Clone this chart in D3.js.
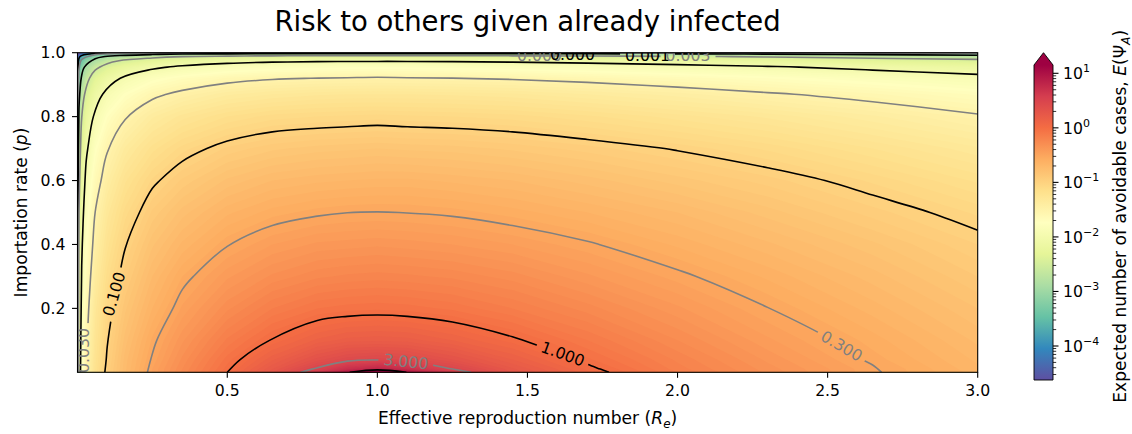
<!DOCTYPE html>
<html>
<head>
<meta charset="utf-8">
<script src="https://cdn.jsdelivr.net/npm/d3@7"></script>
<style>
  html, body { margin: 0; padding: 0; background: #ffffff; }
  svg { display: block; font-family: "DejaVu Sans", sans-serif; }
</style>
</head>
<body>
<svg id="chart" width="1132" height="434"></svg>
<script>
// ---------------- data ----------------
// grid of effective reproduction numbers (columns) and importation rates (rows)
const reValues = [0.001, 0.006, 0.015, 0.03, 0.06, 0.1, 0.16, 0.25, 0.35, 0.5, 0.65, 0.8, 0.9, 1.0, 1.1, 1.25, 1.45, 1.7, 2.0, 2.3, 2.65, 3.0];
const pValues = [0, 0.01, 0.04, 0.1, 0.2, 0.3, 0.4, 0.5, 0.6, 0.7, 0.8, 0.87, 0.92, 0.955, 0.975, 0.988, 0.996, 0.999, 1.0];
// log10 of expected number of avoidable cases, one row per importation rate
const log10Cases = [
  [-3.00, -2.22, -1.82, -1.51, -1.20, -0.95, -0.72, -0.48, -0.27, 0.00, 0.27, 0.60, 0.95, 1.60, 0.98, 0.57, 0.27, 0.05, -0.16, -0.33, -0.51, -0.66],
  [-3.00, -2.22, -1.82, -1.51, -1.20, -0.96, -0.73, -0.48, -0.28, -0.02, 0.24, 0.51, 0.71, 0.81, 0.72, 0.48, 0.25, 0.03, -0.18, -0.34, -0.51, -0.67],
  [-3.02, -2.24, -1.84, -1.53, -1.22, -0.98, -0.74, -0.51, -0.31, -0.06, 0.15, 0.34, 0.43, 0.46, 0.43, 0.32, 0.16, -0.03, -0.21, -0.37, -0.54, -0.69],
  [-3.04, -2.27, -1.86, -1.56, -1.25, -1.01, -0.78, -0.55, -0.37, -0.15, 0.01, 0.13, 0.18, 0.19, 0.18, 0.12, 0.02, -0.12, -0.28, -0.43, -0.58, -0.73],
  [-3.10, -2.32, -1.92, -1.61, -1.30, -1.07, -0.85, -0.64, -0.47, -0.29, -0.16, -0.08, -0.06, -0.05, -0.06, -0.09, -0.16, -0.26, -0.39, -0.52, -0.66, -0.80],
  [-3.15, -2.37, -1.98, -1.67, -1.37, -1.14, -0.93, -0.72, -0.56, -0.41, -0.31, -0.25, -0.23, -0.22, -0.23, -0.25, -0.30, -0.39, -0.50, -0.61, -0.74, -0.88],
  [-3.22, -2.44, -2.04, -1.74, -1.44, -1.22, -1.01, -0.81, -0.67, -0.53, -0.44, -0.39, -0.38, -0.37, -0.38, -0.40, -0.44, -0.51, -0.61, -0.71, -0.83, -0.96],
  [-3.30, -2.52, -2.12, -1.82, -1.52, -1.30, -1.10, -0.91, -0.78, -0.65, -0.58, -0.54, -0.524, -0.52, -0.524, -0.54, -0.58, -0.64, -0.72, -0.82, -0.94, -1.05],
  [-3.40, -2.62, -2.22, -1.92, -1.63, -1.41, -1.21, -1.03, -0.91, -0.79, -0.72, -0.69, -0.68, -0.67, -0.67, -0.69, -0.72, -0.78, -0.86, -0.94, -1.05, -1.17],
  [-3.52, -2.75, -2.35, -2.05, -1.76, -1.54, -1.35, -1.18, -1.06, -0.95, -0.89, -0.86, -0.85, -0.84, -0.85, -0.86, -0.89, -0.94, -1.01, -1.09, -1.20, -1.31],
  [-3.70, -2.92, -2.53, -2.23, -1.94, -1.73, -1.54, -1.37, -1.26, -1.16, -1.10, -1.08, -1.07, -1.06, -1.07, -1.08, -1.10, -1.15, -1.22, -1.29, -1.39, -1.50],
  [-3.89, -3.11, -2.71, -2.42, -2.13, -1.92, -1.74, -1.57, -1.47, -1.37, -1.32, -1.29, -1.28, -1.28, -1.28, -1.29, -1.31, -1.36, -1.42, -1.50, -1.59, -1.69],
  [-4.10, -3.32, -2.93, -2.63, -2.34, -2.13, -1.95, -1.79, -1.69, -1.59, -1.54, -1.52, -1.51, -1.50, -1.51, -1.52, -1.54, -1.58, -1.65, -1.72, -1.81, -1.91],
  [-4.35, -3.57, -3.18, -2.88, -2.59, -2.39, -2.21, -2.05, -1.95, -1.85, -1.80, -1.78, -1.77, -1.77, -1.77, -1.78, -1.80, -1.84, -1.90, -1.97, -2.07, -2.17],
  [-4.60, -3.83, -3.43, -3.14, -2.85, -2.64, -2.46, -2.31, -2.20, -2.11, -2.06, -2.04, -2.03, -2.03, -2.03, -2.04, -2.06, -2.10, -2.16, -2.23, -2.33, -2.42],
  [-4.92, -4.14, -3.75, -3.46, -3.17, -2.96, -2.78, -2.63, -2.53, -2.44, -2.39, -2.36, -2.35, -2.35, -2.35, -2.36, -2.39, -2.43, -2.49, -2.56, -2.65, -2.75],
  [-5.40, -4.62, -4.23, -3.93, -3.65, -3.44, -3.26, -3.11, -3.01, -2.92, -2.87, -2.84, -2.83, -2.83, -2.83, -2.84, -2.87, -2.90, -2.96, -3.03, -3.13, -3.22],
  [-6.00, -5.22, -4.83, -4.54, -4.25, -4.04, -3.87, -3.71, -3.61, -3.52, -3.47, -3.44, -3.44, -3.43, -3.44, -3.45, -3.47, -3.51, -3.57, -3.64, -3.73, -3.83],
  [-6.00, -6.00, -6.00, -6.00, -6.00, -6.00, -6.00, -6.00, -6.00, -6.00, -6.00, -6.00, -6.00, -6.00, -6.00, -6.00, -6.00, -6.00, -6.00, -6.00, -6.00, -6.00]
];
const contourLevels = [0.0001, 0.0003, 0.001, 0.003, 0.01, 0.03, 0.1, 0.3, 1, 3, 10];
const contourLabels = [
  { level: 0.1,    text: "0.100", re: 0.122, p: 0.245 },
  { level: 1,      text: "1.000", re: 1.618, p: 0.058 },
  { level: 3,      text: "3.000", re: 1.095, p: 0.034 },
  { level: 0.3,    text: "0.300", re: 2.547, p: 0.083 },
  { level: 0.0003, text: "0.000", re: 1.54,  p: 0.993 },
  { level: 0.0001, text: "0.000", re: 1.65,  p: 0.9935 },
  { level: 0.001,  text: "0.001", re: 1.90,  p: 0.993 },
  { level: 0.003,  text: "0.003", re: 2.035, p: 0.991 },
  { level: 0.03,   text: "0.030", re: 0.022, p: 0.068 }
];
const xTickValues = [0.5, 1.0, 1.5, 2.0, 2.5, 3.0];
const yTickValues = [0.2, 0.4, 0.6, 0.8, 1.0];
const colorLimits = [2.38e-5, 14.2];

// ---------------- styles / layout ----------------
const labelAngles = [-74, 20, 6, 30, 0, 0, 0, 0, -90];
const W = 1132, H = 434;
const plot = { l: 77.5, r: 977.7, t: 52.7, b: 372.3 };
const cb = { l: 1034, r: 1053, t: 65, b: 380, tip: 52.7 };
const FS_TICK = 15.7, FS_LABEL = 17.1, FS_TITLE = 27.5, FS_CLABEL = 15.7;
const spectral = ["#9e0142", "#d53e4f", "#f46d43", "#fdae61", "#fee08b", "#ffffbf",
                  "#e6f598", "#abdda4", "#66c2a5", "#3288bd", "#5e4fa2"].reverse();

const svg = d3.select("#chart");
svg.append("rect").attr("width", W).attr("height", H).attr("fill", "#fff");
const defs = svg.append("defs");
defs.append("clipPath").attr("id", "plotClip").append("rect")
  .attr("x", plot.l).attr("y", plot.t).attr("width", plot.r - plot.l).attr("height", plot.b - plot.t);

// ---------------- scales ----------------
const x = d3.scaleLinear().domain([0.001, 3.0]).range([plot.l, plot.r]);
const y = d3.scaleLinear().domain([0, 1]).range([plot.b, plot.t]);
const nx = reValues.length, ny = pValues.length;
const reOfIndex = d3.scaleLinear().domain(d3.range(nx)).range(reValues).clamp(true);
const pOfIndex = d3.scaleLinear().domain(d3.range(ny)).range(pValues).clamp(true);
const gx = c => x(reOfIndex(c - 0.5));
const gy = c => y(pOfIndex(c - 0.5));

const cmap = d3.scaleLinear().domain(d3.range(11).map(i => i / 10)).range(spectral)
  .interpolate(d3.interpolateRgb).clamp(true);
const norm = d3.scaleLog().domain(colorLimits).range([0, 1]).clamp(true);
const colorOfLog = L => cmap(norm(Math.pow(10, L)));

const flat = [];
log10Cases.forEach(row => row.forEach(v => flat.push(v)));

// ---------------- filled field ----------------
const step = 0.04;
const fillThresholds = [-10].concat(d3.range(-4.6, 1.2 + 1e-9, step));
const bands = d3.contours().size([nx, ny]).thresholds(fillThresholds)(flat);
const proj = d3.geoTransform({ point(px, py) { this.stream.point(gx(px), gy(py)); } });
const geoPath = d3.geoPath(proj);
const gFill = svg.append("g").attr("clip-path", "url(#plotClip)");
gFill.selectAll("path").data(bands).join("path")
  .attr("d", geoPath)
  .attr("fill", (d, i) => colorOfLog(i === 0 ? -4.7 : d.value + step / 2))
  .attr("fill-rule", "evenodd");

// ---------------- contour lines ----------------
const levelLogs = contourLevels.map(v => Math.log10(v));
const iso = d3.contours().size([nx, ny]).thresholds(levelLogs)(flat);
const onBoundary = pt => pt[0] <= 0 || pt[0] >= nx || pt[1] <= 0 || pt[1] >= ny;
function splitRing(ring) {
  const pts = ring.slice(0, -1);
  const n = pts.length;
  const start = pts.findIndex(onBoundary);
  if (start < 0) return [{ closed: true, pts }];
  const runs = [];
  let cur = [];
  for (let k = 1; k <= n; k++) {
    const pt = pts[(start + k) % n];
    if (onBoundary(pt)) { if (cur.length > 1) runs.push({ closed: false, pts: cur }); cur = []; }
    else cur.push(pt);
  }
  if (cur.length > 1) runs.push({ closed: false, pts: cur });
  return runs;
}
// thin out vertices that sit too close together (in pixels) so the spline stays smooth
function thin(pixPts, minGap) {
  if (pixPts.length < 3) return pixPts;
  const out = [pixPts[0]];
  for (let i = 1; i < pixPts.length - 1; i++) {
    const a = out[out.length - 1], b = pixPts[i];
    if (Math.hypot(b[0] - a[0], b[1] - a[1]) >= minGap) out.push(b);
  }
  const last = pixPts[pixPts.length - 1];
  const a = out[out.length - 1];
  if (out.length > 1 && Math.hypot(last[0] - a[0], last[1] - a[1]) < minGap * 0.5) out.pop();
  out.push(last);
  return out;
}
const lineOpen = d3.line().curve(d3.curveCatmullRom.alpha(0.5));
const lineClosed = d3.line().curve(d3.curveCatmullRomClosed.alpha(0.5));
const isMajor = v => Math.abs(Math.log10(v) - Math.round(Math.log10(v))) < 1e-6;
const gLines = svg.append("g").attr("clip-path", "url(#plotClip)");
iso.forEach((c, k) => {
  const runs = [];
  c.coordinates.forEach(poly => poly.forEach(ring => splitRing(ring).forEach(r => runs.push(r))));
  const d = runs.map(r => {
    const pix = thin(r.pts.map(q => [gx(q[0]), gy(q[1])]), 9);
    return (r.closed ? lineClosed : lineOpen)(pix);
  }).join("");
  gLines.append("path").attr("d", d).attr("fill", "none")
    .attr("stroke", isMajor(contourLevels[k]) ? "#000" : "#808080")
    .attr("stroke-width", 1.6)
    .attr("mask", `url(#lvlmask${k})`);
});

// ---------------- contour labels (inline, with gaps) ----------------
const masks = contourLevels.map((v, k) => {
  const m = defs.append("mask").attr("id", `lvlmask${k}`).attr("maskUnits", "userSpaceOnUse")
    .attr("x", 0).attr("y", 0).attr("width", W).attr("height", H);
  m.append("rect").attr("x", 0).attr("y", 0).attr("width", W).attr("height", H).attr("fill", "#fff");
  return m;
});
const gLabels = svg.append("g").attr("clip-path", "url(#plotClip)");
contourLabels.forEach((lb, i) => {
  const k = contourLevels.indexOf(lb.level);
  const tr = `translate(${x(lb.re)},${y(lb.p)}) rotate(${labelAngles[i]})`;
  const t = gLabels.append("text").attr("transform", tr)
    .attr("text-anchor", "middle").attr("dy", "0.36em")
    .attr("font-size", FS_CLABEL)
    .attr("fill", isMajor(lb.level) ? "#000" : "#808080")
    .text(lb.text);
  const len = t.node().getComputedTextLength();
  masks[k].append("rect").attr("transform", tr)
    .attr("x", -len / 2 - 5).attr("y", -7).attr("width", len + 10).attr("height", 14).attr("fill", "#000");
});

// ---------------- axes ----------------
svg.append("rect").attr("x", plot.l).attr("y", plot.t).attr("width", plot.r - plot.l).attr("height", plot.b - plot.t)
  .attr("fill", "none").attr("stroke", "#000").attr("stroke-width", 1.1);
const gAx = svg.append("g");
xTickValues.forEach(v => {
  gAx.append("line").attr("x1", x(v)).attr("x2", x(v)).attr("y1", plot.b).attr("y2", plot.b + 5.5)
    .attr("stroke", "#000").attr("stroke-width", 1.1);
  gAx.append("text").attr("x", x(v)).attr("y", plot.b + 23.3).attr("text-anchor", "middle")
    .attr("font-size", FS_TICK).attr("fill", "#000").text(d3.format(".1f")(v));
});
yTickValues.forEach(v => {
  gAx.append("line").attr("x1", plot.l - 5.5).attr("x2", plot.l).attr("y1", y(v)).attr("y2", y(v))
    .attr("stroke", "#000").attr("stroke-width", 1.1);
  gAx.append("text").attr("x", plot.l - 12).attr("y", y(v) + 5.7).attr("text-anchor", "end")
    .attr("font-size", FS_TICK).attr("fill", "#000").text(d3.format(".1f")(v));
});

// axis labels and title
const cxPlot = (plot.l + plot.r) / 2;
svg.append("text").attr("x", cxPlot).attr("y", 31).attr("text-anchor", "middle")
  .attr("font-size", FS_TITLE).attr("fill", "#000").text("Risk to others given already infected");
const xl = svg.append("text").attr("x", cxPlot).attr("y", 424).attr("text-anchor", "middle")
  .attr("font-size", FS_LABEL).attr("fill", "#000");
xl.append("tspan").text("Effective reproduction number (");
xl.append("tspan").attr("font-style", "italic").text("R");
xl.append("tspan").attr("font-style", "italic").attr("font-size", FS_LABEL * 0.7).attr("dy", 3.5).text("e");
xl.append("tspan").attr("dy", -3.5).text(")");
const yl = svg.append("text").attr("transform", `translate(27,${(plot.t + plot.b) / 2}) rotate(-90)`)
  .attr("text-anchor", "middle").attr("font-size", FS_LABEL).attr("fill", "#000");
yl.append("tspan").text("Importation rate (");
yl.append("tspan").attr("font-style", "italic").text("p");
yl.append("tspan").text(")");

// ---------------- colorbar ----------------
const grad = defs.append("linearGradient").attr("id", "cbgrad")
  .attr("x1", 0).attr("y1", 1).attr("x2", 0).attr("y2", 0);
spectral.forEach((c, i) => grad.append("stop").attr("offset", i / 10).attr("stop-color", c));
svg.append("rect").attr("x", cb.l).attr("y", cb.t).attr("width", cb.r - cb.l).attr("height", cb.b - cb.t)
  .attr("fill", "url(#cbgrad)");
const cbMid = (cb.l + cb.r) / 2;
svg.append("path").attr("d", `M${cb.l},${cb.t}L${cbMid},${cb.tip}L${cb.r},${cb.t}Z`)
  .attr("fill", spectral[10]);
svg.append("path").attr("d", `M${cb.l},${cb.b}L${cb.l},${cb.t}L${cbMid},${cb.tip}L${cb.r},${cb.t}L${cb.r},${cb.b}Z`)
  .attr("fill", "none").attr("stroke", "#000").attr("stroke-width", 0.9);
const cbScale = d3.scaleLog().domain(colorLimits).range([cb.b, cb.t]);
const gCb = svg.append("g");
cbScale.ticks().forEach(v => {
  const major = isMajor(v);
  const yy = cbScale(v);
  gCb.append("line").attr("x1", cb.r).attr("x2", cb.r + (major ? 5.5 : 3.2)).attr("y1", yy).attr("y2", yy)
    .attr("stroke", "#000").attr("stroke-width", major ? 1.1 : 0.8);
  if (major) {
    const e = Math.round(Math.log10(v));
    const t = gCb.append("text").attr("x", cb.r + 10).attr("y", yy + 5.7)
      .attr("font-size", FS_TICK).attr("fill", "#000");
    t.append("tspan").text("10");
    t.append("tspan").attr("dy", -7).attr("font-size", FS_TICK * 0.7).text((e < 0 ? "\u2212" : "") + Math.abs(e));
  }
});
const cl = svg.append("text").attr("transform", `translate(1126,${(cb.tip + cb.b) / 2}) rotate(-90)`)
  .attr("text-anchor", "middle").attr("font-size", FS_LABEL).attr("fill", "#000");
cl.append("tspan").text("Expected number of avoidable cases, ");
cl.append("tspan").attr("font-style", "italic").text("E");
cl.append("tspan").text("(\u03A8");
cl.append("tspan").attr("font-style", "italic").attr("font-size", FS_LABEL * 0.7).attr("dy", 3.5).text("A");
cl.append("tspan").attr("dy", -3.5).text(")");
</script>
</body>
</html>
